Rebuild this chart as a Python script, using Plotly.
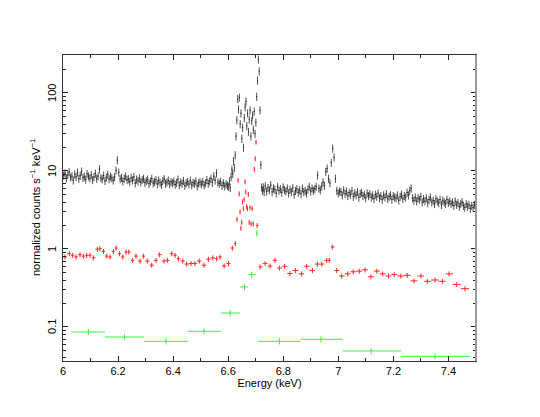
import numpy as np
import plotly.graph_objects as go

# ---------------- data ----------------
# Black spectrum: three contiguous segments of bins
black_seg_a_start, black_seg_a_step = 6.000, 0.005   # 6.000 - 6.600
black_seg_a = [
    8.8, 9.4, 8.1, 8.9, 9.7, 8.3, 8.6, 7.6, 9.1, 8.4, 9.6, 8.0, 8.7, 9.9, 8.2, 8.5, 7.8, 9.2, 8.6, 8.1,
    8.9, 7.7, 8.4, 9.3, 8.0, 8.6, 10.6, 8.2, 7.9, 8.8, 7.5, 8.3, 9.0, 7.9, 8.5, 8.1, 7.6, 8.4, 10.2, 13.8,
    9.6, 7.9, 8.2, 7.4, 8.0, 8.6, 7.7, 7.9, 7.3, 8.2, 7.6, 8.4, 7.0, 7.8, 7.4, 8.1, 7.2, 7.7, 8.0, 7.1,
    7.5, 7.8, 6.9, 7.4, 8.0, 7.0, 7.3, 7.7, 6.8, 7.6, 7.1, 6.7, 7.5, 7.9, 6.9, 7.2, 7.6, 6.8, 7.3, 7.0,
    7.4, 6.7, 7.1, 7.8, 6.6, 7.2, 6.9, 7.5, 6.5, 7.0, 7.3, 6.8, 7.6, 6.6, 7.1, 6.9, 7.4, 6.4, 7.0, 7.2,
    6.8, 7.3, 6.6, 7.0, 7.7, 6.9, 7.4, 8.0, 7.1, 8.6, 7.6, 9.4, 7.2, 6.9, 7.3, 6.5, 7.0, 6.4, 6.8, 6.5,
]
black_seg_b_start, black_seg_b_step = 6.600, 0.003   # 6.600 - 6.732 (Fe XXV complex)
black_seg_b = [
    6.3, 7.4, 6.1, 8.4, 10.5, 9.2, 13.5, 11.0, 16.0,
    28, 45, 84, 62, 88, 40, 55, 26, 36, 20,
    48, 66, 78, 38, 55, 32, 46, 60, 28, 44,
    52, 34, 58, 30, 42, 90, 145, 270, 190, 60,
    12, 6.2, 5.6, 6.2, 5.4,
]
black_seg_c_start, black_seg_c_step = 6.732, 0.005   # 6.732 - 7.497
black_seg_c = [
    6.4, 5.5, 6.1, 5.7, 6.6, 5.4, 6.0, 5.8, 5.2, 6.3, 5.6, 5.9, 5.3, 6.2, 5.7,
    5.5, 6.0, 5.2, 5.8, 5.4, 6.1, 5.0, 5.6, 5.9, 5.3, 5.7, 5.1, 6.0, 5.4, 5.6, 5.2, 5.8, 6.3, 5.5, 6.0,
    5.6, 5.9, 6.3, 8.8, 6.0, 5.7, 6.4, 7.2, 6.5, 9.8, 10.8, 8.0, 7.0, 12.8, 19.5, 15.0, 8.0, 5.6, 5.2, 5.5,
    5.4, 4.9, 5.7, 5.1, 5.5, 4.8, 5.3, 5.0, 5.6, 4.7, 5.2, 4.9, 5.4, 4.6, 5.1, 5.3, 4.8, 5.0, 4.5, 5.2,
    4.8, 5.1, 4.6, 4.9, 4.4, 5.0, 4.7, 5.2, 4.5, 4.8, 4.3, 4.9, 4.6, 5.1, 4.4, 4.7, 4.9, 4.3, 4.8, 4.6,
    4.5, 4.9, 4.2, 4.7, 5.0, 4.4, 4.8, 4.6, 5.3, 4.9, 5.6, 6.0, 4.5, 4.2, 4.6, 4.1, 4.5, 4.3, 4.7, 4.0,
    4.4, 4.1, 4.5, 3.9, 4.3, 4.6, 4.0, 4.2, 3.8, 4.4, 4.1, 3.9, 4.3, 3.7, 4.2, 4.0, 3.8, 4.3, 3.9, 4.1,
    3.8, 4.0, 3.6, 4.1, 3.7, 3.9, 3.5, 3.8, 4.0, 3.6, 3.4, 3.8, 3.5, 3.7, 3.3, 3.6, 3.4, 3.7, 3.3, 3.5,
]
black_rel_err = 0.12

# Red spectrum: bin centres (keV) and values
red_energy = [
    6.007, 6.023, 6.035, 6.047, 6.062, 6.074, 6.086, 6.098, 6.110, 6.125,
    6.134, 6.147, 6.159, 6.171, 6.183, 6.193, 6.205, 6.217, 6.229, 6.239,
    6.253, 6.265, 6.280, 6.292, 6.306, 6.322, 6.338, 6.350, 6.367, 6.379,
    6.395, 6.407, 6.419, 6.435, 6.449, 6.465, 6.479, 6.495, 6.512, 6.528,
    6.544, 6.558, 6.570, 6.585, 6.601, 6.615, 6.626,
    6.632, 6.636, 6.640, 6.643, 6.646, 6.649, 6.652, 6.655, 6.658, 6.661,
    6.664, 6.667, 6.670, 6.673, 6.676, 6.679, 6.683, 6.687, 6.691, 6.695,
    6.698, 6.701, 6.705,
    6.716, 6.734, 6.752, 6.770, 6.786, 6.805, 6.824, 6.844, 6.867, 6.885,
    6.906, 6.924, 6.940, 6.958, 6.967, 6.978, 6.994, 7.012, 7.034, 7.054,
    7.076, 7.097, 7.118, 7.140, 7.161, 7.182, 7.203, 7.227, 7.250, 7.275,
    7.300, 7.323, 7.351, 7.378, 7.402, 7.430, 7.460,
]
red_counts = [
    0.79, 0.87, 0.83, 0.79, 0.845, 0.81, 0.83, 0.83, 0.77, 0.99,
    1.01, 0.93, 0.81, 0.79, 0.93, 1.03, 0.87, 0.79, 0.915, 0.915,
    0.715, 0.81, 0.70, 0.81, 0.70, 0.62, 0.715, 0.845, 0.70, 0.715,
    0.87, 0.83, 0.75, 0.70, 0.64, 0.65, 0.65, 0.70, 0.62, 0.74,
    0.77, 0.75, 0.79, 0.605, 0.65, 1.03, 1.17,
    2.4, 7.6, 5.1, 3.0, 1.85, 2.2, 4.0, 3.3, 4.3, 7.3,
    5.4, 3.5, 3.3, 5.0, 2.2, 3.4, 2.1, 3.3, 2.1, 10.5,
    14.4, 23.5, 2.0,
    0.59, 0.65, 0.605, 0.715, 0.57, 0.60, 0.485, 0.53, 0.48, 0.60,
    0.53, 0.64, 0.64, 0.715, 0.715, 1.06, 0.53, 0.45, 0.48, 0.51,
    0.52, 0.54, 0.44, 0.52, 0.48, 0.45, 0.47, 0.45, 0.46, 0.39,
    0.45, 0.385, 0.40, 0.385, 0.48, 0.35, 0.31,
]
red_rel_err = 0.075

# Green spectrum: wide bins (low edge, centre, high edge, value)
green_lo = [6.032, 6.152, 6.294, 6.455, 6.574, 6.643, 6.673, 6.700, 6.707, 6.863, 7.016, 7.228]
green_energy = [6.092, 6.223, 6.374, 6.512, 6.607, 6.659, 6.685, 6.704, 6.786, 6.937, 7.119, 7.351]
green_hi = [6.152, 6.294, 6.455, 6.574, 6.643, 6.673, 6.700, 6.707, 6.863, 7.016, 7.228, 7.478]
green_counts = [0.0863, 0.0744, 0.0655, 0.088, 0.151, 0.326, 0.469, 1.6, 0.0655, 0.0695, 0.0492, 0.042]
green_rel_err = 0.09

x_ticks = [6.0, 6.2, 6.4, 6.6, 6.8, 7.0, 7.2, 7.4]
x_tick_labels = ["6", "6.2", "6.4", "6.6", "6.8", "7", "7.2", "7.4"]
y_ticks = [0.1, 1, 10, 100]
y_tick_labels = ["0.1", "1", "10", "100"]
y_title = "normalized counts s<sup>−1</sup> keV<sup>−1</sup>"

# ---------------- build bins ----------------
def seg(start, step, vals):
    n = len(vals)
    centres = start + step * (np.arange(n) + 0.5)
    return centres, np.full(n, step / 2.0), np.array(vals, dtype=float)

xa, ea, ya = seg(black_seg_a_start, black_seg_a_step, black_seg_a)
xb, eb, yb = seg(black_seg_b_start, black_seg_b_step, black_seg_b)
xc, ec, yc = seg(black_seg_c_start, black_seg_c_step, black_seg_c)
bx = np.concatenate([xa, xb, xc])
bex = np.concatenate([ea, eb, ec])
by = np.concatenate([ya, yb, yc])

rx = np.array(red_energy)
ry = np.array(red_counts)
edges = np.concatenate([[rx[0] - (rx[1] - rx[0]) / 2], (rx[1:] + rx[:-1]) / 2, [rx[-1] + (rx[-1] - rx[-2]) / 2]])
rex_minus = rx - edges[:-1]
rex_plus = edges[1:] - rx

gx = np.array(green_energy)
gy = np.array(green_counts)

fig = go.Figure()

def add_cross(x, y, exm, exp, rel, color, lw):
    fig.add_trace(go.Scatter(
        x=x, y=y, mode="markers",
        marker=dict(size=1, color=color),
        error_x=dict(type="data", symmetric=False, array=exp, arrayminus=exm,
                     color=color, thickness=lw, width=0),
        error_y=dict(type="data", symmetric=False, array=y * rel, arrayminus=y * rel,
                     color=color, thickness=lw, width=0),
        showlegend=False, hoverinfo="skip"))

add_cross(bx, by, bex, bex, black_rel_err, "#222222", 0.8)
add_cross(rx, ry, rex_minus, rex_plus, red_rel_err, "#ff2a2a", 1)
add_cross(gx, gy, gx - np.array(green_lo), np.array(green_hi) - gx, green_rel_err, "#3cf03c", 1)

minor_y = [m * 10.0 ** d for d in range(-2, 3) for m in range(2, 10)]

# the page body adds an 8px offset, so margins are reduced by 8 on left/top
fig.update_layout(
    width=540, height=417,
    margin=dict(l=55, r=72, t=47, b=64, autoexpand=False),
    paper_bgcolor="white", plot_bgcolor="white",
    font=dict(family="Liberation Sans, Arial, sans-serif", size=11, color="black"),
    xaxis=dict(
        range=[6.0, 7.5], tickvals=x_ticks, ticktext=x_tick_labels,
        ticks="inside", ticklen=5, tickcolor="#222", mirror="ticks",
        showline=True, linecolor="#333", linewidth=1, automargin=False,
        showgrid=False, zeroline=False,
        minor=dict(ticks="inside", ticklen=3, dtick=0.1, tickcolor="#222", showgrid=False),
        title=dict(text="Energy (keV)", standoff=2, font=dict(size=11)),
    ),
    yaxis=dict(
        type="log", range=[np.log10(0.0366), np.log10(307)],
        tickvals=y_ticks, showticklabels=False,
        ticks="inside", ticklen=5, tickcolor="#222", mirror="ticks",
        showline=True, linecolor="#333", linewidth=1, automargin=False,
        showgrid=False, zeroline=False,
        minor=dict(ticks="inside", ticklen=3, tickvals=minor_y, tickcolor="#222", showgrid=False),
    ),
)

# vertical y tick labels (reading bottom to top), as in the reference
for v, t in zip(y_ticks, y_tick_labels):
    fig.add_annotation(x=0, xref="paper", y=np.log10(v), yref="y", text=t,
                       textangle=-90, showarrow=False, xanchor="center", yanchor="middle",
                       xshift=-11, font=dict(size=11, color="black"))
fig.add_annotation(x=0, xref="paper", y=0.5, yref="paper", text=y_title,
                   textangle=-90, showarrow=False, xanchor="center", yanchor="middle",
                   xshift=-28, font=dict(size=11, color="black"))

fig.add_shape(type="line", xref="paper", yref="paper", x0=1, x1=1, y0=0, y1=1,
              line=dict(color="#9a9a9a", width=2))

fig.write_html("out.html")
